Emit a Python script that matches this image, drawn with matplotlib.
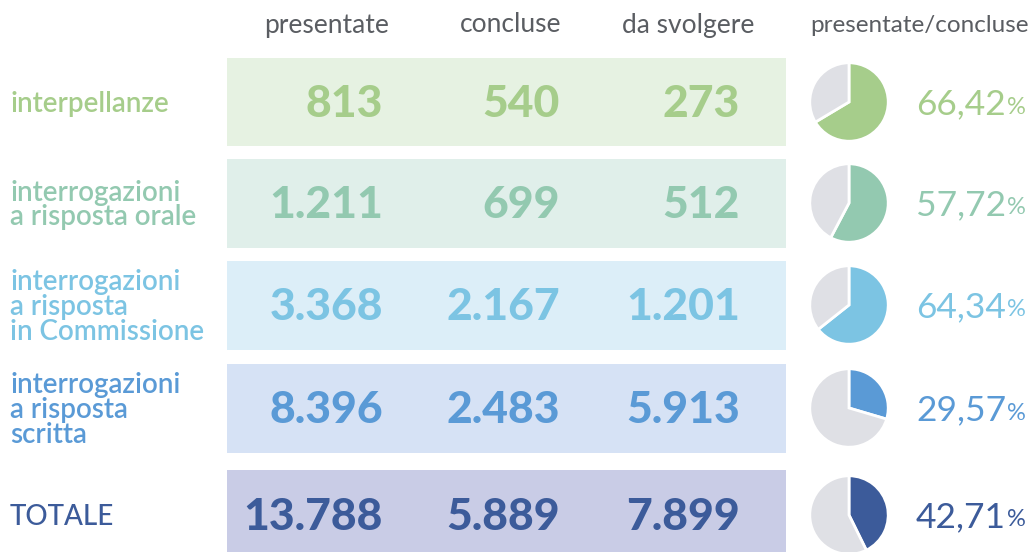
import numpy as np
import matplotlib
matplotlib.use("Agg")
import matplotlib.pyplot as plt

plt.rcParams['font.family'] = ['Lato', 'DejaVu Sans']

# data
categories = ["interpellanze",
              "interrogazioni\na risposta orale",
              "interrogazioni\na risposta\nin Commissione",
              "interrogazioni\na risposta\nscritta",
              "TOTALE"]
columns = ["presentate", "concluse", "da svolgere", "presentate/concluse"]
presentate = [813, 1211, 3368, 8396, 13788]
concluse = [540, 699, 2167, 2483, 5889]
da_svolgere = [273, 512, 1201, 5913, 7899]
pct = [66.42, 57.72, 64.34, 29.57, 42.71]

txt_colors = ["#a6cd8b", "#93c9b0", "#7cc4e3", "#5a9ad6", "#3c5b9a"]
bg_colors = ["#e6f2e2", "#e0efea", "#dceef8", "#d6e2f5", "#c9cce6"]
pie_gray = "#dfe0e5"
head_gray = "#5a5d62"

W, H = 1032, 552
fig = plt.figure(figsize=(W / 100, H / 100), dpi=100)
ax = fig.add_axes([0, 0, 1, 1])
ax.set_xlim(0, W)
ax.set_ylim(H, 0)
ax.axis('off')

row_y = [102, 203, 305, 408, 515]
row_h = [88, 89, 89, 89, 90]
col_x = [383, 560, 740]
head_x = [327, 511, 688, 919]
head_fs = [19, 19, 19, 17.5]


def fmt(n):
    return f"{n:,}".replace(",", ".")


# header
for lab, x, fs in zip(columns, head_x, head_fs):
    ax.text(x, 25, lab, ha='center', va='center', fontsize=fs,
            fontweight='normal', color=head_gray)

# row boxes
ax.barh(row_y, [786 - 227] * 5, left=227, height=row_h, color=bg_colors)

pct_texts = []
for i, cat in enumerate(categories):
    c = txt_colors[i]
    ax.text(10, row_y[i] + 2, cat, ha='left', va='center', fontsize=20,
            fontweight='semibold' if i < 4 else 'medium', color=c,
            linespacing=0.95)
    for x, vals in zip(col_x, [presentate, concluse, da_svolgere]):
        ax.text(x, row_y[i] + 2, fmt(vals[i]), ha='right', va='center',
                fontsize=32, fontweight='black', color=c)
    t = ax.text(916, row_y[i] + 2, f"{pct[i]:.2f}".replace(".", ","),
                ha='left', va='center', fontsize=25.5, color=c)
    pct_texts.append(t)

    # pie
    r = 40
    pax = fig.add_axes([(849 - r) / W, 1 - (row_y[i] + r) / H, 2 * r / W, 2 * r / H])
    pax.pie([pct[i], 100 - pct[i]], colors=[c, pie_gray], startangle=90,
            counterclock=False, radius=1,
            wedgeprops=dict(edgecolor='white', linewidth=2))
    pax.set_xlim(-1.02, 1.02)
    pax.set_ylim(-1.02, 1.02)

# small percent sign right after the numbers
fig.canvas.draw()
renderer = fig.canvas.get_renderer()
inv = ax.transData.inverted()
for i, t in enumerate(pct_texts):
    bb = t.get_window_extent(renderer)
    x1, _ = inv.transform((bb.x1, bb.y0))
    ax.text(x1 + 1, row_y[i] + 5, "%", ha='left', va='center', fontsize=17,
            color=txt_colors[i])

fig.savefig("out.png", dpi=100)
